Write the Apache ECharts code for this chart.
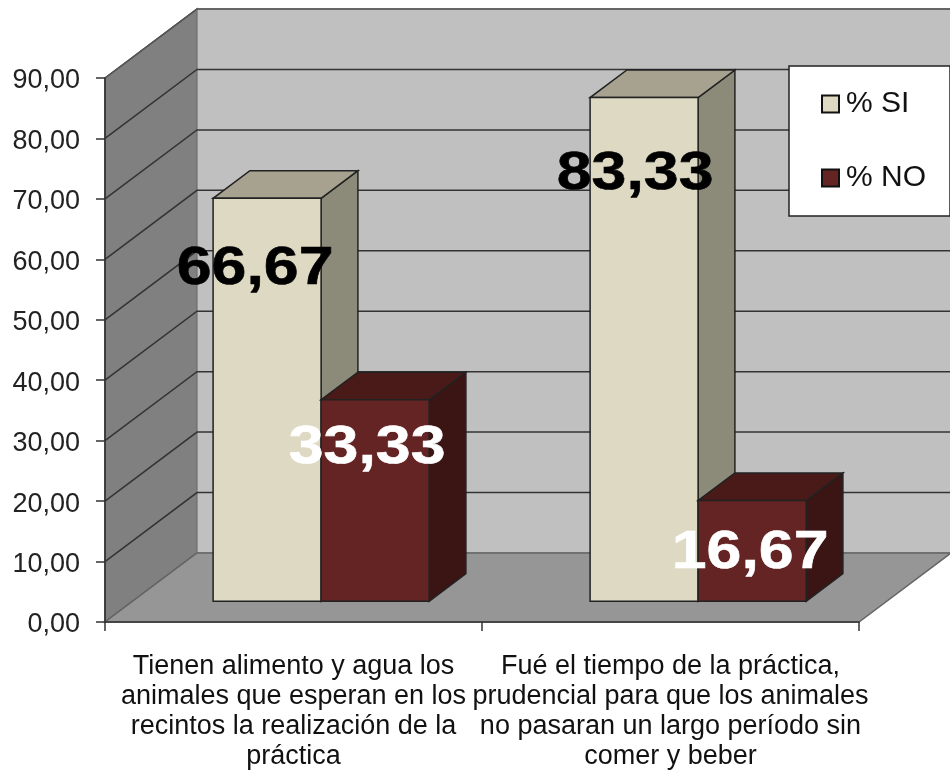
<!DOCTYPE html>
<html>
<head>
<meta charset="utf-8">
<style>html,body{margin:0;padding:0;background:#fff}#main{width:950px;height:772px}</style>
<script src="https://cdn.jsdelivr.net/npm/echarts@6/dist/echarts.min.js"></script>
</head>
<body>
<div id="main"></div>
<script>
var categories = [
    'Tienen alimento y agua los\nanimales que esperan en los\nrecintos la realización de la\npráctica',
    'Fué el tiempo de la práctica,\nprudencial para que los animales\nno pasaran un largo período sin\ncomer y beber'
];
var siValues = [66.67, 83.33];
var noValues = [33.33, 16.67];
var yTicks = [0, 10, 20, 30, 40, 50, 60, 70, 80, 90];

// 3D look, in pixels
var DEPTH_X = 92, DEPTH_Y = -69;
var BAR_IN = 0.3, BAR_DEPTH = 0.4, BAR_WIDTH = 108 / 377;
// hand placed labels in the original: shift from the top centre of the bar front
var siShift = [[-12, 71], [-9, 76]];
var noShift = [[-8, 48], [-2, 53]];

var myChart = echarts.init(document.getElementById('main'));

function num(v) {
    return v.toFixed(2).replace('.', ',');
}

function poly(points, fill, stroke, z2) {
    return {
        type: 'polygon',
        z2: z2 || 0,
        shape: { points: points },
        style: { fill: fill, stroke: stroke, lineWidth: 1.5 }
    };
}

function renderWalls(params, api) {
    var y = api.coord([0, api.value(1)])[1];
    var base = api.coord([0, 0])[1];
    var top = api.coord([0, 90])[1];
    var x0 = params.coordSys.x;
    var x1 = x0 + params.coordSys.width;
    var children = [];
    if (params.dataIndex === 0) {
        children.push(poly([[x0, base], [x0 + DEPTH_X, base + DEPTH_Y], [x0 + DEPTH_X, top + DEPTH_Y], [x0, top]], '#808080', '#444'));
        children.push(poly([[x0 + DEPTH_X, base + DEPTH_Y], [x1 + DEPTH_X, base + DEPTH_Y], [x1 + DEPTH_X, top + DEPTH_Y], [x0 + DEPTH_X, top + DEPTH_Y]], '#c0c0c0', '#808080'));
        children.push(poly([[x0, base], [x1, base], [x1 + DEPTH_X, base + DEPTH_Y], [x0 + DEPTH_X, base + DEPTH_Y]], '#969696', '#666'));
    }
    var v = api.value(1);
    if (v > 0) {
        children.push({
            type: 'polyline',
            shape: { points: [[x0, y], [x0 + DEPTH_X, y + DEPTH_Y], [x1 + DEPTH_X, y + DEPTH_Y]] },
            style: { fill: 'none', stroke: v === 90 ? '#555' : '#333', lineWidth: 1.5 }
        });
    }
    return { type: 'group', children: children };
}

function barRenderer(slot, colors, shifts, labelColor) {
    return function (params, api) {
        var i = api.value(0);
        var val = api.value(1);
        var band = api.size([1, 0])[0];
        var w = band * BAR_WIDTH;
        var c = api.coord([i, 0]);
        var t = api.coord([i, val]);
        var ox = DEPTH_X * BAR_IN, oy = DEPTH_Y * BAR_IN;
        var dx = DEPTH_X * BAR_DEPTH, dy = DEPTH_Y * BAR_DEPTH;
        var left = c[0] + ox + (slot - 1) * w;
        var right = left + w;
        var by = c[1] + oy, ty = t[1] + oy;
        return {
            type: 'group',
            children: [
                poly([[right, by], [right + dx, by + dy], [right + dx, ty + dy], [right, ty]], colors[2], '#222'),
                poly([[left, ty], [right, ty], [right + dx, ty + dy], [left + dx, ty + dy]], colors[1], '#222'),
                poly([[left, by], [right, by], [right, ty], [left, ty]], colors[0], '#222'),
                {
                    type: 'text',
                    z2: 50,
                    x: left + w / 2 + shifts[i][0],
                    y: ty + shifts[i][1],
                    scaleX: 1.16,
                    style: {
                        text: num(val),
                        x: 0,
                        y: 0,
                        align: 'center',
                        verticalAlign: 'middle',
                        fill: labelColor,
                        stroke: labelColor,
                        lineWidth: 0.6,
                        font: 'bold 54px "Liberation Sans"'
                    }
                }
            ]
        };
    };
}

var option = {
    animation: false,
    backgroundColor: '#fff',
    textStyle: { fontFamily: '"Liberation Sans"' },
    grid: { left: 105, right: 91, top: 78, bottom: 150 },
    legend: {
        data: [
            { name: '% SI', icon: 'rect' },
            { name: '% NO', icon: 'rect' }
        ],
        orient: 'vertical',
        left: 789,
        top: 66,
        padding: [23, 24, 23, 32],
        itemWidth: 17,
        itemHeight: 17,
        itemGap: 44,
        backgroundColor: '#fff',
        borderColor: '#222',
        borderWidth: 1.5,
        selectedMode: false,
        textStyle: { fontSize: 30, color: '#111', padding: [0, 0, 0, 2] }
    },
    xAxis: {
        type: 'category',
        data: categories,
        z: 10,
        axisLine: { lineStyle: { color: '#333', width: 1.5 } },
        axisTick: { show: true, length: 9, lineStyle: { color: '#333', width: 1.5 } },
        axisLabel: { interval: 0, fontSize: 27, color: '#111', lineHeight: 30, margin: 30 }
    },
    yAxis: {
        type: 'value',
        min: 0,
        max: 90,
        interval: 10,
        z: 10,
        splitLine: { show: false },
        axisLine: { show: true, lineStyle: { color: '#333', width: 1.5 } },
        axisTick: { show: true, length: 9, lineStyle: { color: '#333', width: 1.5 } },
        axisLabel: { fontSize: 27, color: '#222', margin: 25, verticalAlign: 'top', lineHeight: 6, formatter: function (v) { return num(v); } }
    },
    series: [
        {
            type: 'custom',
            silent: true,
            renderItem: renderWalls,
            data: yTicks.map(function (v) { return [0, v]; }),
            encode: { x: 0, y: 1 }
        },
        {
            name: '% SI',
            type: 'custom',
            silent: true,
            itemStyle: { color: '#ddd9c3', borderColor: '#111', borderWidth: 1.5 },
            renderItem: barRenderer(0, ['#ddd9c3', '#a6a28f', '#8c8a78'], siShift, '#000'),
            data: siValues.map(function (v, i) { return [i, v]; }),
            encode: { x: 0, y: 1 }
        },
        {
            name: '% NO',
            type: 'custom',
            silent: true,
            itemStyle: { color: '#632423', borderColor: '#111', borderWidth: 1.5 },
            renderItem: barRenderer(1, ['#632423', '#4a1a18', '#3b1513'], noShift, '#fff'),
            data: noValues.map(function (v, i) { return [i, v]; }),
            encode: { x: 0, y: 1 }
        }
    ]
};

myChart.setOption(option);
</script>
</body>
</html>
